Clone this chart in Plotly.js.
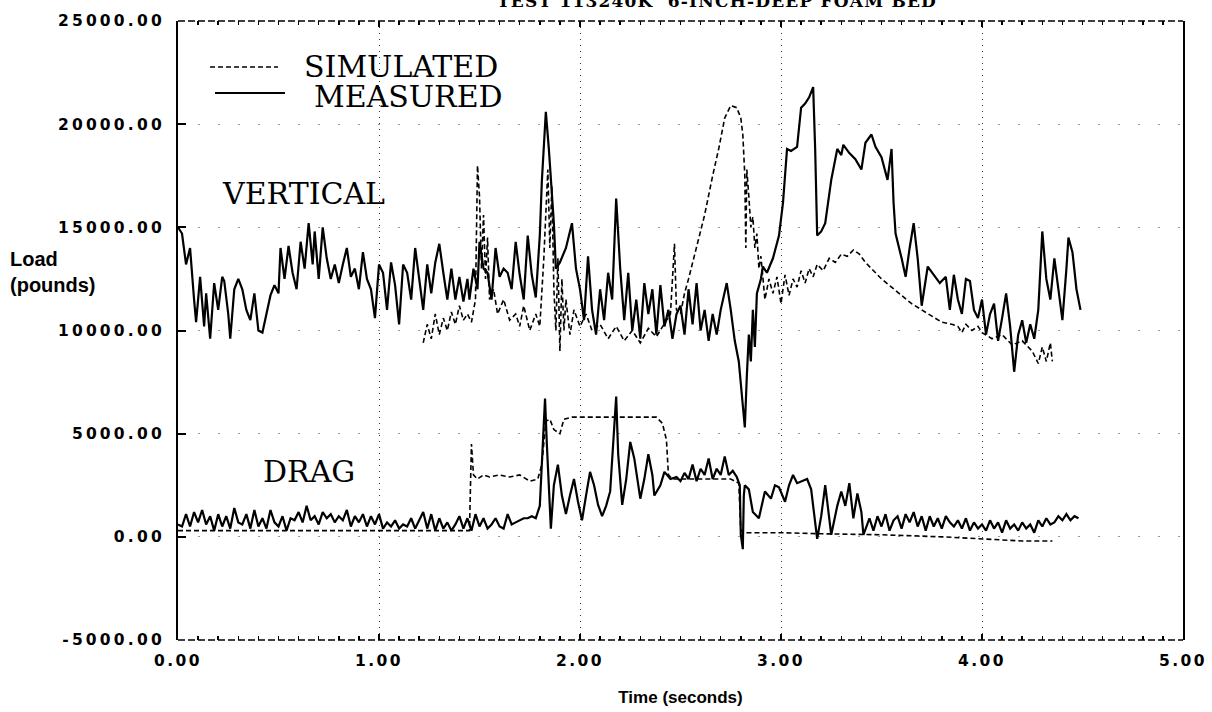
<!DOCTYPE html>
<html>
<head>
<meta charset="utf-8">
<script src="https://cdn.plot.ly/plotly-3.0.1.min.js"></script>
<style>
  html, body { margin: 0; padding: 0; background: #fff; }
  #chart { width: 1212px; height: 712px; }
  .xtick text { letter-spacing: 2.5px; }
  .ytick text { letter-spacing: 3.2px; }
  .gtitle { letter-spacing: 1.2px; }
</style>
</head>
<body>
<div id="chart"></div>
<script>
// ---------------- DATA (time in seconds, load in pounds) ----------------
const chartTitle = "TEST 113240K  6-INCH-DEEP FOAM BED";
const xTickVals = [0, 1, 2, 3, 4, 5];
const xTickText = ["0.00", "1.00", "2.00", "3.00", "4.00", "5.00"];
const yTickVals = [-5000, 0, 5000, 10000, 15000, 20000, 25000];
const yTickText = ["-5000.00", "0.00", "5000.00", "10000.00", "15000.00", "20000.00", "25000.00"];
const seriesNames = ["SIMULATED", "MEASURED"];
const groupLabels = ["VERTICAL", "DRAG"];

const measuredVertical = [
  [0.00,15000],[0.02,14700],[0.04,13200],[0.06,14000],[0.08,11500],[0.09,10400],[0.11,12600],
  [0.13,10200],[0.14,11800],[0.16,9600],[0.18,12300],[0.20,11000],[0.22,12600],[0.23,12400],
  [0.25,10800],[0.26,9600],[0.28,12000],[0.30,12500],[0.32,12000],[0.34,11000],[0.36,10500],
  [0.38,11800],[0.40,10000],[0.42,9900],[0.44,10800],[0.46,11700],[0.48,12200],[0.50,11800],
  [0.51,14000],[0.53,12500],[0.55,14100],[0.57,12800],[0.59,12000],[0.61,14300],[0.63,13000],
  [0.65,15200],[0.67,13200],[0.68,14800],[0.70,12500],[0.72,15000],[0.74,13500],[0.76,12500],
  [0.78,13200],[0.80,12300],[0.82,13200],[0.84,14000],[0.86,12600],[0.88,13000],[0.90,12000],
  [0.92,13800],[0.94,12500],[0.96,12000],[0.98,10600],[1.00,13200],[1.02,12800],[1.04,11000],
  [1.06,13300],[1.08,12200],[1.10,10300],[1.12,13200],[1.14,12800],[1.16,11500],[1.18,14000],
  [1.20,12500],[1.22,11000],[1.24,13200],[1.26,11800],[1.28,13300],[1.30,14200],[1.32,12800],
  [1.34,11500],[1.36,13000],[1.38,11500],[1.40,12600],[1.42,11400],[1.44,12500],[1.45,11500],
  [1.47,13000],[1.49,12000],[1.50,14300],[1.52,13000],[1.54,12800],[1.56,11500],[1.58,14000],
  [1.60,12600],[1.62,13000],[1.64,12800],[1.66,12000],[1.68,14300],[1.70,12700],[1.72,11500],
  [1.74,14600],[1.76,12700],[1.78,11600],[1.80,14600],[1.81,17200],[1.83,20600],[1.845,18800],
  [1.855,17500],[1.87,15200],[1.88,13000],[1.90,13300],[1.93,14000],[1.96,15200],[1.98,13000],
  [2.00,12000],[2.02,10500],[2.04,13600],[2.06,11000],[2.08,9800],[2.10,12000],[2.12,10500],
  [2.14,12800],[2.16,11500],[2.18,16400],[2.20,13000],[2.22,10500],[2.24,12800],[2.26,10000],
  [2.28,11500],[2.30,9600],[2.32,12300],[2.34,10800],[2.36,12000],[2.38,9800],[2.40,12200],
  [2.42,10200],[2.44,11000],[2.46,9600],[2.48,10800],[2.50,11200],[2.52,9800],[2.54,12000],
  [2.56,10300],[2.58,12300],[2.60,10000],[2.62,11000],[2.64,9500],[2.66,10800],[2.68,9800],
  [2.70,11000],[2.73,12300],[2.75,11000],[2.77,9500],[2.79,8500],[2.81,6500],[2.82,5300],
  [2.83,7800],[2.84,9800],[2.85,8500],[2.86,11000],[2.87,9200],[2.88,11800],[2.90,12500],
  [2.91,13100],[2.93,12800],[2.96,13500],[2.99,14600],[3.01,16200],[3.03,18800],[3.05,18700],
  [3.08,18900],[3.10,20800],[3.12,21000],[3.14,21300],[3.16,21800],[3.17,18800],[3.18,14600],
  [3.20,14800],[3.22,15200],[3.25,17300],[3.28,18800],[3.30,18500],[3.31,19000],[3.34,18600],
  [3.37,18300],[3.40,17800],[3.42,19100],[3.45,19500],[3.47,18900],[3.50,18400],[3.53,17300],
  [3.55,18800],[3.56,16200],[3.57,14700],[3.60,13500],[3.62,12600],[3.64,14000],[3.66,15200],
  [3.68,13500],[3.70,11200],[3.73,13100],[3.76,12700],[3.79,12300],[3.82,12600],[3.84,11000],
  [3.86,12700],[3.88,11500],[3.90,10800],[3.92,12500],[3.94,12400],[3.96,11000],[3.98,10600],
  [4.00,11500],[4.02,9800],[4.04,10800],[4.06,11300],[4.08,9500],[4.10,10600],[4.12,11800],
  [4.14,10200],[4.16,8000],[4.18,9800],[4.20,10500],[4.22,9400],[4.24,10300],[4.26,9600],
  [4.28,11000],[4.30,14800],[4.32,12500],[4.34,11500],[4.36,13500],[4.38,12000],[4.40,10500],
  [4.42,13000],[4.43,14500],[4.45,13800],[4.47,12000],[4.49,11000]
];

const simulatedVertical = [
  [1.22,9400],[1.24,10300],[1.26,9600],[1.28,10800],[1.30,9800],[1.32,10600],[1.34,10000],
  [1.36,10900],[1.38,10300],[1.40,11200],[1.42,10500],[1.44,10800],[1.46,10400],[1.48,11500],
  [1.49,18000],[1.50,16500],[1.51,13000],[1.52,15600],[1.53,12500],[1.54,14500],[1.55,11500],
  [1.57,12000],[1.59,10800],[1.62,11500],[1.65,10500],[1.68,10800],[1.70,10200],[1.72,11200],
  [1.75,10000],[1.78,10800],[1.80,10200],[1.82,13500],[1.84,17800],[1.85,14000],[1.86,17000],
  [1.87,12000],[1.88,10000],[1.89,13500],[1.90,9000],[1.91,12500],[1.92,10000],[1.93,11500],
  [1.95,9800],[1.97,11000],[2.00,10200],[2.03,10800],[2.06,10000],[2.10,10300],[2.14,9600],
  [2.18,10200],[2.22,9500],[2.26,10000],[2.30,9400],[2.34,10100],[2.38,9700],[2.42,10300],
  [2.45,10800],[2.47,14200],[2.48,11000],[2.50,10800],[2.52,11800],[2.54,12500],[2.58,14000],
  [2.62,15600],[2.66,17500],[2.69,18800],[2.72,20300],[2.75,20900],[2.78,20800],[2.80,20300],
  [2.81,19500],[2.82,17500],[2.825,14000],[2.83,17800],[2.84,16500],[2.85,15000],[2.86,15500],
  [2.87,14000],[2.88,14700],[2.89,13000],[2.90,13600],[2.92,11500],[2.94,12500],[2.96,11800],
  [2.98,12600],[3.00,11300],[3.02,12700],[3.04,11700],[3.06,12500],[3.08,12100],[3.10,12900],
  [3.12,12300],[3.14,13000],[3.16,12600],[3.18,13200],[3.21,12900],[3.24,13500],[3.27,13300],
  [3.30,13700],[3.33,13600],[3.36,13900],[3.39,13700],[3.42,13300],[3.46,12900],[3.50,12500],
  [3.55,12100],[3.60,11700],[3.65,11300],[3.70,11000],[3.75,10700],[3.80,10400],[3.85,10300],
  [3.88,10200],[3.90,9900],[3.92,10300],[3.95,10000],[3.98,10200],[4.00,9900],[4.05,9600],
  [4.10,9800],[4.15,9300],[4.20,9500],[4.25,9000],[4.28,8400],[4.30,9200],[4.32,8500],
  [4.34,9400],[4.35,8500]
];

const measuredDrag = [
  [0.00,600],[0.02,500],[0.04,1100],[0.06,500],[0.08,1200],[0.10,700],[0.12,1300],[0.14,600],
  [0.16,1000],[0.18,300],[0.20,1100],[0.22,500],[0.24,1000],[0.26,400],[0.28,1400],[0.30,700],
  [0.32,600],[0.34,1100],[0.36,400],[0.38,1300],[0.40,500],[0.42,900],[0.44,400],[0.46,1300],
  [0.48,700],[0.50,500],[0.52,1000],[0.54,300],[0.56,900],[0.58,800],[0.60,1200],[0.62,700],
  [0.64,1500],[0.66,800],[0.68,1000],[0.70,600],[0.72,1200],[0.74,900],[0.76,1100],[0.78,700],
  [0.80,1000],[0.82,800],[0.84,1300],[0.86,500],[0.88,1000],[0.90,700],[0.92,1100],[0.94,500],
  [0.96,1000],[0.98,600],[1.00,1100],[1.02,400],[1.04,700],[1.06,500],[1.08,800],[1.10,400],
  [1.12,600],[1.14,500],[1.16,900],[1.18,400],[1.20,800],[1.22,1200],[1.24,400],[1.26,1100],
  [1.28,300],[1.30,900],[1.32,400],[1.34,700],[1.36,300],[1.38,600],[1.40,1000],[1.42,400],
  [1.44,900],[1.46,300],[1.48,1100],[1.50,500],[1.52,900],[1.54,400],[1.56,600],[1.58,900],
  [1.60,500],[1.62,400],[1.64,1100],[1.66,600],[1.68,700],[1.70,800],[1.72,900],[1.74,900],
  [1.76,1000],[1.78,900],[1.80,1500],[1.81,3500],[1.82,5500],[1.826,6700],[1.835,4500],
  [1.845,2500],[1.855,400],[1.87,2500],[1.89,3500],[1.91,2000],[1.93,1100],[1.95,2000],
  [1.97,2800],[1.99,1700],[2.01,800],[2.03,2000],[2.05,3150],[2.07,2500],[2.09,1550],
  [2.11,1000],[2.13,1500],[2.15,2200],[2.18,6800],[2.19,4000],[2.21,1550],[2.23,2800],
  [2.25,4600],[2.27,3800],[2.30,1850],[2.32,2800],[2.34,4000],[2.36,3000],[2.37,2000],
  [2.40,2500],[2.42,3150],[2.45,2800],[2.48,2900],[2.50,2700],[2.52,3100],[2.54,2800],
  [2.56,3500],[2.58,2700],[2.60,3300],[2.62,3000],[2.64,3800],[2.66,2800],[2.68,3300],
  [2.70,3000],[2.72,3900],[2.74,3000],[2.76,3200],[2.78,2900],[2.795,2500],[2.80,100],
  [2.81,-600],[2.815,2000],[2.82,2500],[2.84,2300],[2.86,1200],[2.89,900],[2.92,2200],
  [2.95,1850],[2.97,2500],[2.99,2400],[3.02,1700],[3.04,2500],[3.06,3000],[3.08,2600],
  [3.11,2700],[3.13,2800],[3.15,2300],[3.18,-100],[3.20,1000],[3.22,2500],[3.25,100],
  [3.28,1500],[3.30,2200],[3.32,1500],[3.34,2600],[3.36,900],[3.38,2100],[3.40,1200],
  [3.41,100],[3.44,900],[3.46,300],[3.48,1000],[3.50,500],[3.52,1100],[3.54,300],[3.56,800],
  [3.58,1000],[3.60,400],[3.62,1100],[3.64,700],[3.66,1200],[3.68,500],[3.70,1000],[3.72,300],
  [3.74,1000],[3.76,500],[3.78,900],[3.80,400],[3.82,1000],[3.84,700],[3.86,500],[3.88,800],
  [3.90,400],[3.92,900],[3.94,300],[3.96,700],[3.98,400],[4.00,600],[4.02,300],[4.04,800],
  [4.06,400],[4.08,700],[4.10,200],[4.12,800],[4.14,400],[4.16,600],[4.18,300],[4.20,700],
  [4.22,400],[4.24,600],[4.26,200],[4.28,800],[4.30,500],[4.32,900],[4.34,600],[4.36,700],
  [4.38,1000],[4.40,800],[4.42,1100],[4.44,800],[4.46,1000],[4.48,900]
];

const simulatedDrag = [
  [0.00,300],[0.40,300],[0.80,280],[1.20,300],[1.45,300],[1.46,4500],[1.47,3000],[1.49,2800],
  [1.52,3000],[1.55,2900],[1.60,3000],[1.65,2900],[1.70,3000],[1.75,2700],[1.79,2800],
  [1.81,3500],[1.83,5600],[1.85,5700],[1.87,5200],[1.90,5000],[1.92,5700],[1.96,5800],
  [2.00,5800],[2.10,5800],[2.20,5800],[2.30,5800],[2.38,5800],[2.41,5500],[2.43,4700],
  [2.44,3000],[2.46,2800],[2.55,2800],[2.65,2800],[2.75,2800],[2.79,2600],[2.80,300],
  [2.83,200],[3.00,200],[3.20,150],[3.50,100],[3.80,0],[4.00,-100],[4.20,-200],[4.35,-200]
];

// ---------------- LAYOUT HELPERS ----------------
const W = 1212, H = 712, L = 178, R = 1183, T = 21, B = 640;
const px = x => (x - L) / (R - L);
const py = y => (B - y) / (B - T);
const xs = a => a.map(p => p[0]);
const ys = a => a.map(p => p[1]);

const dashStyle = {color: "#000", width: 1.6, dash: "5px,3px"};
const solidStyle = {color: "#000", width: 2.2};

const traces = [
  {x: xs(simulatedVertical), y: ys(simulatedVertical), mode: "lines", line: dashStyle, name: seriesNames[0], showlegend: false, hoverinfo: "skip"},
  {x: xs(simulatedDrag), y: ys(simulatedDrag), mode: "lines", line: dashStyle, name: seriesNames[0], showlegend: false, hoverinfo: "skip"},
  {x: xs(measuredVertical), y: ys(measuredVertical), mode: "lines", line: solidStyle, name: seriesNames[1], showlegend: false, hoverinfo: "skip"},
  {x: xs(measuredDrag), y: ys(measuredDrag), mode: "lines", line: solidStyle, name: seriesNames[1], showlegend: false, hoverinfo: "skip"}
];

const tickFont = {family: "DejaVu Sans", size: 15.5, color: "#000", weight: "bold"};
const serifFont = {family: "DejaVu Serif", size: 30, color: "#000"};

const layout = {
  width: W, height: H,
  paper_bgcolor: "#fff", plot_bgcolor: "#fff",
  margin: {l: L, r: W - R, t: T, b: H - B, pad: 0},
  showlegend: false,
  title: {
    text: chartTitle,
    font: {family: "DejaVu Serif", size: 17, color: "#000", weight: "bold"},
    xref: "container", x: 717 / W, xanchor: "center",
    yref: "container", y: 1 - 1 / H, yanchor: "middle"
  },
  xaxis: {
    range: [0, 5], fixedrange: true,
    tickvals: xTickVals, ticktext: xTickText, tickfont: tickFont,
    ticks: "inside", ticklen: 6, tickwidth: 1.5, tickcolor: "#000",
    minor: {dtick: 0.1, ticks: "inside", ticklen: 4, tickwidth: 1.5, tickcolor: "#000", showgrid: false},
    showline: true, linecolor: "rgba(0,0,0,0)", mirror: "ticks",
    showgrid: true, gridcolor: "#333", griddash: "1px,5px", gridwidth: 1,
    zeroline: false, ticklabelstandoff: 6,
    title: {text: "Time (seconds)", font: {family: "Liberation Sans", size: 17, color: "#000", weight: "bold"}, standoff: 22}
  },
  yaxis: {
    range: [-5000, 25000], fixedrange: true,
    tickvals: yTickVals, ticktext: yTickText, tickfont: tickFont,
    ticks: "inside", ticklen: 8, tickwidth: 2, tickcolor: "#000",
    showline: true, linecolor: "#000", linewidth: 2, mirror: true,
    showgrid: true, gridcolor: "#999", griddash: "2px,18px", gridwidth: 1,
    zeroline: false, ticklabelstandoff: 8
  },
  shapes: [
    {type: "line", xref: "paper", yref: "paper", x0: 0, x1: 1, y0: 1, y1: 1, line: {color: "#000", width: 1.5, dash: "7px,3px"}},
    {type: "line", xref: "paper", yref: "paper", x0: 0, x1: 1, y0: 0, y1: 0, line: {color: "#000", width: 1.5, dash: "7px,3px"}},
    {type: "line", xref: "paper", yref: "paper", x0: px(210), x1: px(278), y0: py(67), y1: py(67), line: dashStyle},
    {type: "line", xref: "paper", yref: "paper", x0: px(215), x1: px(285), y0: py(93), y1: py(93), line: solidStyle}
  ],
  annotations: [
    {text: seriesNames[0], xref: "paper", yref: "paper", x: px(302), y: py(66), xanchor: "left", yanchor: "middle", showarrow: false, font: serifFont},
    {text: seriesNames[1], xref: "paper", yref: "paper", x: px(312), y: py(96), xanchor: "left", yanchor: "middle", showarrow: false, font: serifFont},
    {text: groupLabels[0], xref: "paper", yref: "paper", x: px(220), y: py(193), xanchor: "left", yanchor: "middle", showarrow: false, font: serifFont},
    {text: groupLabels[1], xref: "paper", yref: "paper", x: px(261), y: py(472), xanchor: "left", yanchor: "middle", showarrow: false, font: serifFont},
    {text: "Load<br>(pounds)", xref: "paper", yref: "paper", x: px(8), y: py(272), xanchor: "left", yanchor: "middle", align: "left", showarrow: false,
     font: {family: "Liberation Sans", size: 20, color: "#000", weight: "bold"}}
  ]
};

Plotly.newPlot("chart", traces, layout, {staticPlot: true, displayModeBar: false});
</script>
</body>
</html>
